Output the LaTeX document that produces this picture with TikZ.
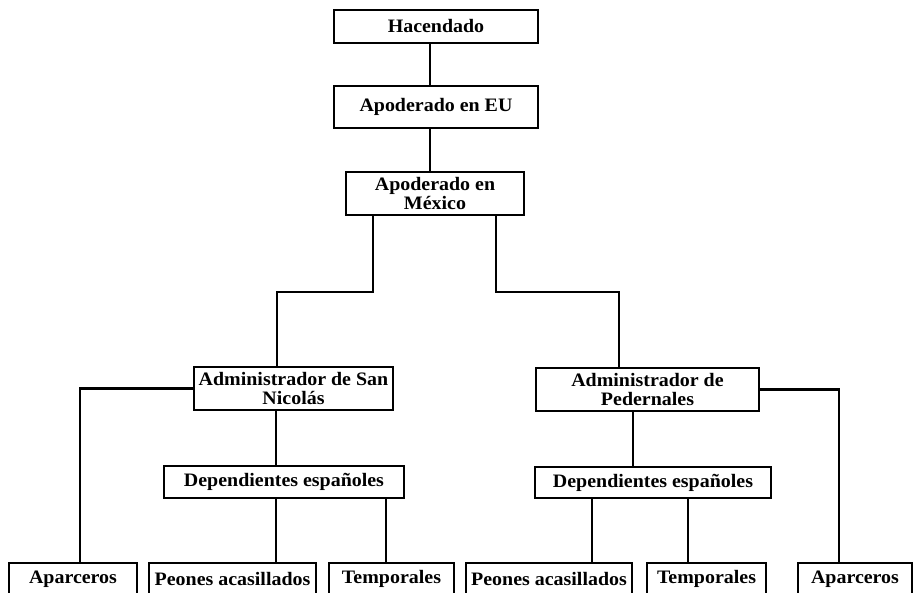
\documentclass[tikz,border=0pt]{standalone}
\usepackage{fontspec}
\setmainfont{Liberation Serif}[FakeStretch=1.05]

\begin{document}
\begin{tikzpicture}[x=1pt,y=-1pt,
  box/.style={draw,line width=2.2pt,fill=white,inner sep=1pt,align=center,
    font=\fontsize{19}{19}\selectfont\bfseries},
  link/.style={line width=2.2pt}]
\useasboundingbox (0,0) rectangle (916,593);
\clip (0,0) rectangle (916,593);
\node[box,minimum width=204,minimum height=33] (hac) at (436,26.5) {Hacendado};
\node[box,minimum width=204,minimum height=42] (eu) at (436,107) {Apoderado en EU};
\node[box,minimum width=178,minimum height=43] (mex) at (435,193.5) {Apoderado en\\M\'exico};
\node[box,minimum width=199,minimum height=43] (adsn) at (293.5,388.5) {Administrador de San\\Nicol\'as};
\node[box,minimum width=223,minimum height=43] (adpe) at (647.5,389.5) {Administrador de\\Pedernales};
\node[box,minimum width=240,minimum height=32] (depsn) at (284,482) {Dependientes espa\~noles};
\node[box,minimum width=236,minimum height=31] (deppe) at (653,482.5) {Dependientes espa\~noles};
\foreach \n/\x/\w/\t in {apl/73/128/Aparceros, pel/232.5/167/Peones acasillados,
    tel/391.5/125/Temporales, per/549/166/Peones acasillados,
    ter/706.5/119/Temporales, apr/855/114/Aparceros}
  \node[box,minimum width=\w,minimum height=32] (\n) at (\x,579) {\t};

\draw[link] ([xshift=-62]mex.south) -- ++(0,76) -| ([xshift=-16.5]adsn.north);
\draw[link] ([xshift=61]mex.south) -- ++(0,76) -| ([xshift=-28.5]adpe.north);
\draw[link] (adsn.west) -| ([xshift=7]apl.north);
\draw[link] (adpe.east) -| ([xshift=-16]apr.north);
\foreach \c/\a/\b in {430/hac/eu, 430/eu/mex, 276/adsn/depsn, 276/depsn/pel,
    386/depsn/tel, 633/adpe/deppe, 592/deppe/per, 688/deppe/ter}
{
  \coordinate (k) at (\c,0);
  \draw[link] (k |- \a.south) -- (k |- \b.north);
}
\end{tikzpicture}
\end{document}
